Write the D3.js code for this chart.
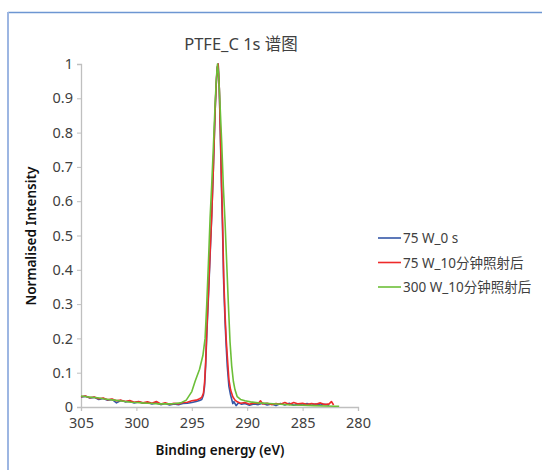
<!DOCTYPE html>
<html>
<head>
<meta charset="utf-8">
<script src="https://cdn.jsdelivr.net/npm/d3@7"></script>
<style>
  body { margin: 0; background: #fff; }
  svg text { font-family: "Noto Sans", "Noto Sans CJK SC", sans-serif; fill: #404040; }
</style>
</head>
<body>
<svg id="chart" width="542" height="470"></svg>
<script>
/* PTFE C 1s spectrum: three normalised XPS scans */

const width = 542, height = 470;
const title = "PTFE_C 1s 谱图";
const xTitle = "Binding energy (eV)";
const yTitle = "Normalised Intensity";

const xTicks = [305, 300, 295, 290, 285, 280];
const yTicks = [0, 0.1, 0.2, 0.3, 0.4, 0.5, 0.6, 0.7, 0.8, 0.9, 1];

const seriesNames = ["75 W_0 s", "75 W_10分钟照射后", "300 W_10分钟照射后"];
const seriesColors = ["#3558a8", "#ee2a2a", "#6cbf38"];

// [binding energy (eV), normalised intensity]
const blue = [
  [305.0,0.029],[304.6,0.031],[304.2,0.026],[303.8,0.028],[303.4,0.022],[303.0,0.025],
  [302.6,0.020],[302.2,0.022],[301.8,0.012],[301.4,0.019],[301.0,0.015],[300.6,0.017],
  [300.2,0.012],[299.8,0.015],[299.4,0.011],[299.0,0.013],[298.6,0.009],[298.2,0.012],
  [297.8,0.007],[297.4,0.010],[297.0,0.006],[296.6,0.009],[296.2,0.007],[295.8,0.010],
  [295.4,0.011],[295.0,0.013],[294.6,0.016],[294.3,0.019],[294.1,0.022],[293.95,0.035],
  [293.85,0.06],[293.75,0.12],[293.65,0.21],[293.5,0.32],[293.35,0.44],[293.2,0.56],
  [293.05,0.70],[292.9,0.86],[292.8,0.94],[292.7,0.99],[292.62,1.0],[292.52,0.93],
  [292.42,0.79],[292.32,0.64],[292.22,0.51],[292.12,0.36],[292.0,0.25],[291.9,0.18],
  [291.8,0.12],[291.65,0.06],[291.5,0.035],[291.3,0.010],[291.2,0.016],[291.0,0.004],
  [290.8,0.012],[290.5,0.008],[290.2,0.010],[289.8,0.005],[289.4,0.009],[289.0,0.007],
  [288.6,0.011],[288.2,0.006],[287.8,0.009],[287.4,0.004],[287.0,0.010],[286.6,0.006],
  [286.2,0.011],[285.8,0.005],[285.4,0.008],[285.0,0.006],[284.6,0.010],[284.2,0.005],
  [283.8,0.009],[283.4,0.006],[283.0,0.008],[282.6,0.005]
];
const red = [
  [305.0,0.030],[304.6,0.032],[304.2,0.027],[303.8,0.029],[303.4,0.024],[303.0,0.026],
  [302.6,0.021],[302.2,0.023],[301.8,0.018],[301.4,0.020],[301.0,0.016],[300.6,0.019],
  [300.2,0.014],[299.8,0.016],[299.4,0.012],[299.0,0.015],[298.6,0.011],[298.2,0.016],
  [297.8,0.009],[297.4,0.012],[297.0,0.008],[296.6,0.011],[296.2,0.009],[295.8,0.013],
  [295.4,0.014],[295.0,0.018],[294.6,0.020],[294.3,0.024],[294.1,0.028],[293.95,0.04],
  [293.85,0.07],[293.75,0.13],[293.65,0.22],[293.5,0.33],[293.35,0.45],[293.2,0.56],
  [293.05,0.70],[292.9,0.86],[292.8,0.94],[292.7,0.99],[292.62,1.0],[292.52,0.93],
  [292.42,0.80],[292.32,0.66],[292.22,0.54],[292.12,0.38],[292.0,0.27],[291.9,0.20],
  [291.8,0.15],[291.65,0.08],[291.5,0.05],[291.3,0.03],[291.1,0.020],[290.9,0.015],
  [290.6,0.011],[290.2,0.013],[289.8,0.008],[289.4,0.012],[289.0,0.010],[288.8,0.018],
  [288.6,0.009],[288.2,0.011],[287.8,0.007],[287.4,0.010],[287.0,0.008],[286.6,0.013],
  [286.2,0.007],[285.8,0.013],[285.4,0.009],[285.0,0.011],[284.6,0.007],[284.2,0.010],
  [283.8,0.008],[283.4,0.012],[283.0,0.007],[282.6,0.009],[282.4,0.016],[282.2,0.006]
];
const green = [
  [305.0,0.032],[304.5,0.030],[304.0,0.028],[303.5,0.027],[303.0,0.024],[302.5,0.022],
  [302.0,0.020],[301.5,0.018],[301.0,0.016],[300.5,0.014],[300.0,0.013],[299.5,0.012],
  [299.0,0.011],[298.5,0.010],[298.0,0.009],[297.5,0.009],[297.0,0.009],[296.5,0.010],
  [296.0,0.012],[295.5,0.020],[295.0,0.045],[294.7,0.075],[294.3,0.11],[294.0,0.15],
  [293.8,0.20],[293.65,0.30],[293.5,0.42],[293.35,0.55],[293.2,0.65],[293.05,0.76],
  [292.9,0.88],[292.78,0.96],[292.68,1.0],[292.58,0.97],[292.45,0.88],[292.3,0.77],
  [292.15,0.64],[292.0,0.54],[291.85,0.42],[291.7,0.30],[291.55,0.19],[291.4,0.12],
  [291.25,0.075],[291.1,0.05],[290.9,0.030],[290.6,0.022],[290.2,0.018],[289.7,0.015],
  [289.0,0.012],[288.0,0.010],[287.0,0.008],[286.0,0.006],[285.0,0.005],[284.0,0.004],
  [283.0,0.003],[282.0,0.002],[281.7,0.002]
];
const seriesData = [blue, red, green];

const svg = d3.select("#chart").attr("viewBox", [0, 0, width, height]);

// frame of the original figure
svg.append("line").attr("x1", 8).attr("x2", width).attr("y1", 12.5).attr("y2", 12.5)
  .attr("stroke", "#6d96d2").attr("stroke-width", 1.5);
svg.append("line").attr("x1", 8).attr("x2", 8).attr("y1", 12).attr("y2", height)
  .attr("stroke", "#9db6e2").attr("stroke-width", 2);

const x = d3.scaleLinear().domain([305, 280]).range([81, 358]);
const y = d3.scaleLinear().domain([0, 1]).range([407, 64]);

// axes
const yAxis = svg.append("g").attr("transform", `translate(${x(305)},0)`)
  .call(d3.axisLeft(y).tickValues(yTicks).tickSize(4).tickPadding(4).tickFormat(d3.format("~g")));
const xAxis = svg.append("g").attr("transform", `translate(0,${y(0)})`)
  .call(d3.axisBottom(x).tickValues(xTicks).tickSize(4).tickPadding(7).tickFormat(d3.format("d")));
[xAxis, yAxis].forEach(g => {
  g.select(".domain").attr("stroke", "#bfbfbf").attr("stroke-width", 1.3);
  g.selectAll(".tick line").attr("stroke", "#bfbfbf");
  g.selectAll(".tick text").attr("font-size", 14.5).attr("fill", "#595959");
});

// spectra
const line = d3.line().x(d => x(d[0])).y(d => y(d[1]));
seriesData.forEach((s, i) => {
  svg.append("path").datum(s)
    .attr("fill", "none")
    .attr("stroke", seriesColors[i])
    .attr("stroke-width", 1.6)
    .attr("stroke-linejoin", "round")
    .attr("d", line);
});

// titles
svg.append("text").attr("x", 241).attr("y", 50).attr("text-anchor", "middle")
  .attr("font-size", 16.5).text(title);
svg.append("text").attr("x", 220).attr("y", 455).attr("text-anchor", "middle")
  .attr("font-size", 13.5).attr("font-weight", 600).style("fill", "#111")
  .text(xTitle);
svg.append("text").attr("transform", "translate(36,236) rotate(-90)").attr("text-anchor", "middle")
  .attr("font-size", 13.5).attr("font-weight", 600).style("fill", "#111").text(yTitle);

// legend
const legend = svg.append("g").attr("transform", "translate(378,238)");
seriesNames.forEach((name, i) => {
  const row = legend.append("g").attr("transform", `translate(0,${i * 24.5})`);
  row.append("line").attr("x1", 0).attr("x2", 23).attr("stroke", seriesColors[i]).attr("stroke-width", 1.6);
  row.append("text").attr("x", 25).attr("y", 5).attr("font-size", 13.5).text(name);
});
</script>
</body>
</html>
